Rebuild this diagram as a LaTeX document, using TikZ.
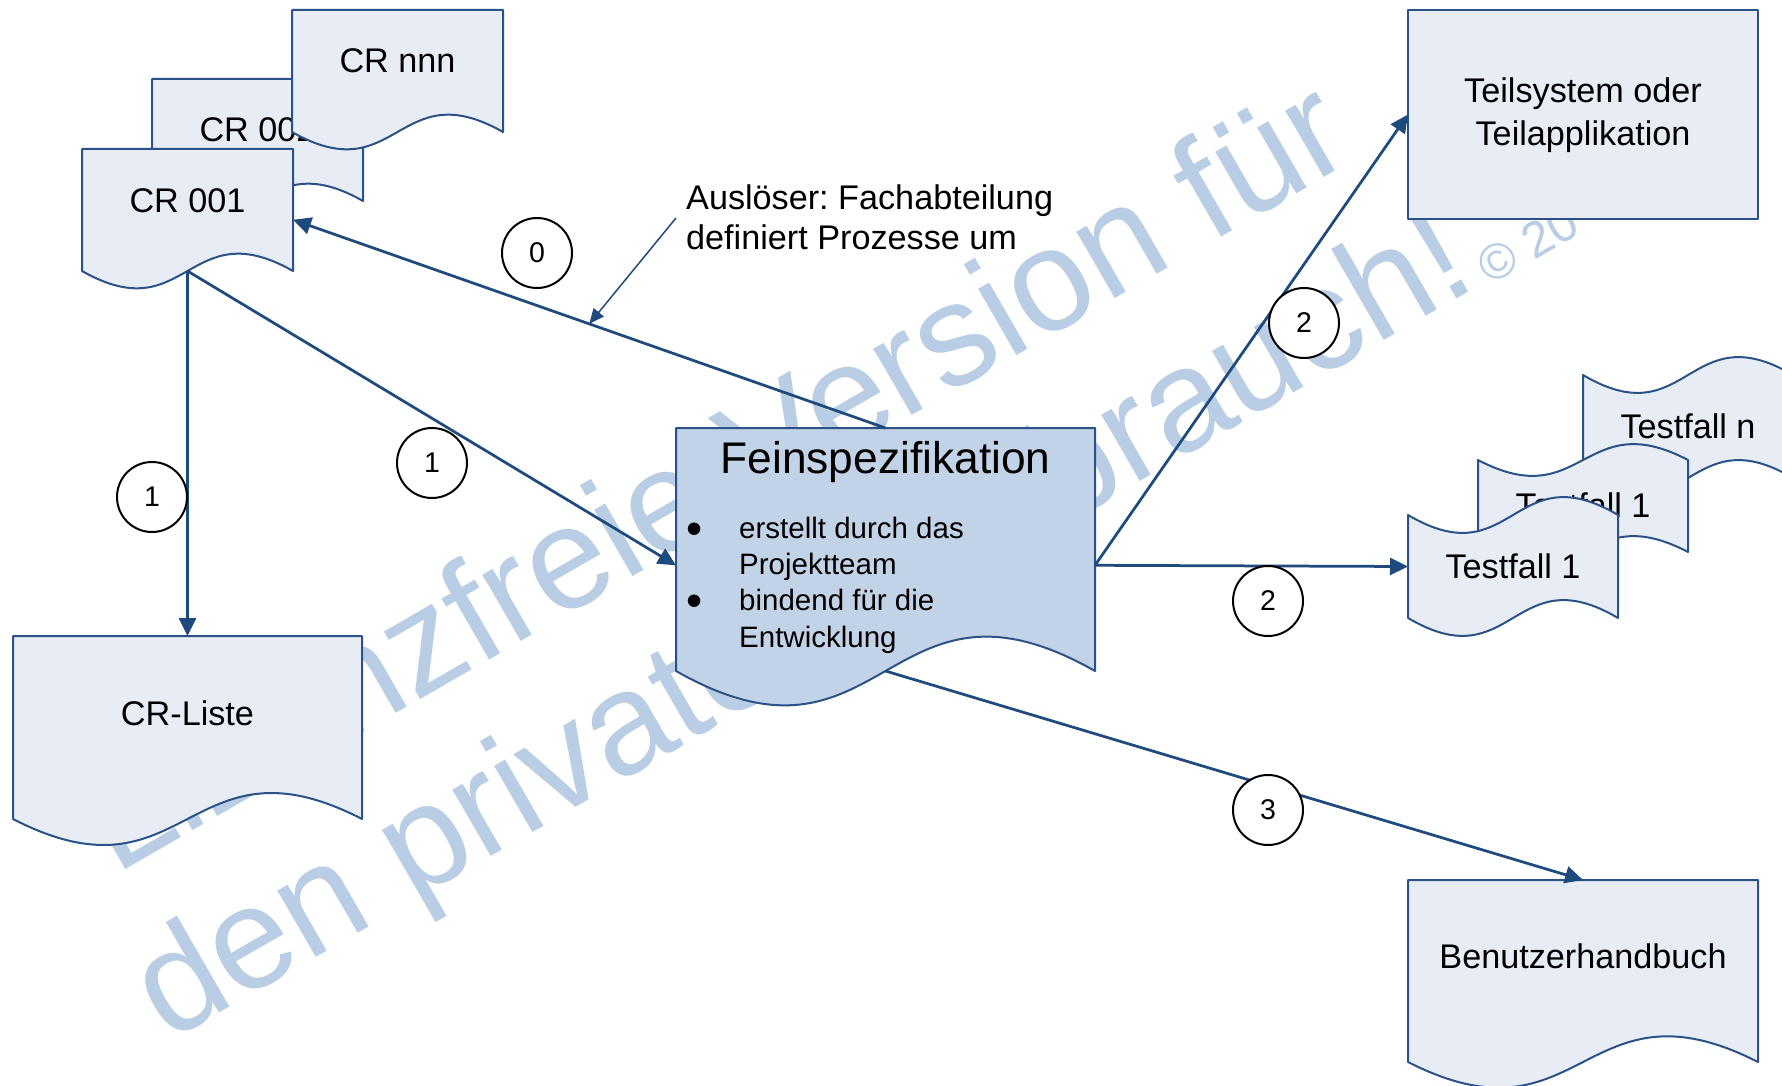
\documentclass[tikz,border=0pt]{standalone}
\usepackage{fontspec}
\setmainfont{Liberation Sans}
\usetikzlibrary{arrows.meta,calc}
\frenchspacing

\definecolor{linecol}{HTML}{1F4A7E}
\definecolor{bordercol}{HTML}{2A5288}
\definecolor{lightfill}{HTML}{E8EDF5}
\definecolor{specfill}{HTML}{C3D3E7}
\definecolor{wmcol}{HTML}{B9CDE5}

% document shape: straight top, wavy bottom (node name, wave control offset, style)
\newcommand{\drawdoc}[3]{%
  \path[#3] (#1.north west) -- (#1.north east) -- (#1.south east)
    .. controls ($(#1.south)+(0,-#2)$) and ($(#1.south)+(0,#2)$) .. (#1.south west) -- cycle;}
% punched tape shape: wavy top and bottom
\newcommand{\drawtape}[3]{%
  \path[#3] (#1.north west) .. controls ($(#1.north)+(0,#2)$) and ($(#1.north)+(0,-#2)$) .. (#1.north east)
    -- (#1.south east) .. controls ($(#1.south)+(0,-#2)$) and ($(#1.south)+(0,#2)$) .. (#1.south west) -- cycle;}

\begin{document}
\begin{tikzpicture}[x=1pt,y=-1pt,
  frame/.style={draw=none, rectangle, inner sep=0pt, outer sep=0pt},
  docshape/.style={fill=lightfill, draw=bordercol, line width=2pt, line join=round},
  specshape/.style={fill=specfill, draw=bordercol, line width=2pt, line join=round},
  lbl/.style={font=\fontsize{34.2}{40}\selectfont, inner sep=0pt, anchor=base},
  lblw/.style={font=\fontsize{34.2}{40}\selectfont, inner sep=0pt, anchor=base west},
  bul/.style={font=\fontsize{29.5}{36}\selectfont, inner sep=0pt, anchor=base west},
  dot/.style={font=\fontsize{46}{50}\selectfont, inner sep=0pt, anchor=base west},
  conn/.style={draw=linecol, line width=2.75pt, -{Triangle[length=18pt,width=17pt]}},
  callout/.style={draw=linecol, line width=1.5pt, -{Triangle[length=15pt,width=13pt]}},
  numc/.style={circle, draw=black, line width=2pt, fill=white, minimum size=70pt,
    inner sep=0pt, font=\fontsize{28.5}{32}\selectfont},
  wm/.style={text=wmcol, inner sep=0pt, anchor=base west, rotate=30}
]
\useasboundingbox (0,0) rectangle (1782,1086);
\clip (0,0) rectangle (1782,1086);
\fill[white] (0,0) rectangle (1782,1086);

% watermark
\node[wm, font=\fontsize{145}{150}\selectfont] (wm1) at (115,876) {Lizenzfreie Version für};
\node[wm, font=\fontsize{145}{150}\selectfont] (wm2) at (168,1043) {den privaten Gebrauch!};
\node[wm, font=\fontsize{50}{56}\selectfont] (wm3) at (1490,286) {© 20};

% outlines of all shapes
\node[frame, minimum width=211pt, minimum height=122pt] (cr2) at (257.5,140) {};
\node[frame, minimum width=211pt, minimum height=122pt] (crn) at (397.5,71) {};
\node[frame, minimum width=211pt, minimum height=122pt] (cr1) at (187.5,210) {};
\node[frame, minimum width=349pt, minimum height=183pt] (crl) at (187.5,727.5) {};
\node[frame, minimum width=419pt, minimum height=243pt] (fs) at (885.5,549.5) {};
\node[frame, minimum width=350pt, minimum height=209pt] (ts) at (1583,114.5) {};
\node[frame, minimum width=210pt, minimum height=103pt] (tfn) at (1688,426.5) {};
\node[frame, minimum width=210pt, minimum height=92pt] (tfm) at (1583,506) {};
\node[frame, minimum width=210pt, minimum height=103pt] (tf1) at (1513,566.5) {};
\node[frame, minimum width=350pt, minimum height=182pt] (bh) at (1583,971) {};

% change requests
\drawdoc{cr2}{60}{docshape}
\node[lbl] (cr2-t) at (257.5,142) {CR 002};
\drawdoc{crn}{60}{docshape}
\node[lbl] (crn-t) at (397.5,73) {CR nnn};
\drawdoc{cr1}{60}{docshape}
\node[lbl] (cr1-t) at (187.5,212) {CR 001};

% CR list
\drawdoc{crl}{90}{docshape}
\node[lbl] (crl-t) at (187.5,725) {CR-Liste};

% detailed specification
\drawdoc{fs}{119}{specshape}
\node[inner sep=0pt, anchor=base, font=\fontsize{44.3}{50}\selectfont] (fs-t) at (885.5,473) {Feinspezifikation};
\node[dot] (fs-b1) at (686,544) {•};
\node[bul] (fs-l1) at (739,538) {erstellt durch das};
\node[bul] (fs-l2) at (739,574.3) {Projektteam};
\node[dot] (fs-b2) at (686,616.6) {•};
\node[bul] (fs-l3) at (739,610.6) {bindend für die};
\node[bul] (fs-l4) at (739,647) {Entwicklung};

% subsystem
\draw[docshape] (ts.north west) rectangle (ts.south east);
\node[lbl] (ts-t1) at (1583,103) {Teilsystem oder};
\node[lbl] (ts-t2) at (1583,146) {Teilapplikation};

% test cases
\drawtape{tfn}{62}{docshape}
\node[lbl] (tfn-t) at (1688,438) {Testfall n};
\drawtape{tfm}{55}{docshape}
\node[lbl] (tfm-t) at (1583,517) {Testfall 1};
\drawtape{tf1}{62}{docshape}
\node[lbl] (tf1-t) at (1513,578) {Testfall 1};

% user manual
\drawdoc{bh}{89}{docshape}
\node[lbl] (bh-t) at (1583,968) {Benutzerhandbuch};

% connection points
\coordinate (cr1-in) at ($(cr1.north east)!0.58!(cr1.south east)$);
\coordinate (fs-in) at ($(fs.north west)!0.565!(fs.south west)$);
\coordinate (fs-out) at ($(fs.north east)!0.565!(fs.south east)$);
\coordinate (c0-mid) at ($(fs.north)!0.5!(cr1-in)$);
\coordinate (callout-start) at (676,218);

% connectors
\draw[conn] (fs.north) -- (cr1-in);
\draw[conn] (cr1.south) -- (crl.north);
\draw[conn] (cr1.south) -- (fs-in);
\draw[conn] (fs-out) -- (ts.west);
\draw[conn] (fs-out) -- (tf1.west);
\draw[conn] (fs.south) -- (bh.north);
\draw[callout] (callout-start) -- (c0-mid);

% trigger note
\node[lblw] (note1) at (686,209) {Auslöser: Fachabteilung};
\node[lblw] (note2) at (686,249) {definiert Prozesse um};

% step numbers
\node[numc] (n0) at (537,253) {0};
\node[numc] (n1a) at (152,497) {1};
\node[numc] (n1b) at (432,463) {1};
\node[numc] (n2a) at (1304,323) {2};
\node[numc] (n2b) at (1268,601) {2};
\node[numc] (n3) at (1268,810) {3};
\end{tikzpicture}
\end{document}
